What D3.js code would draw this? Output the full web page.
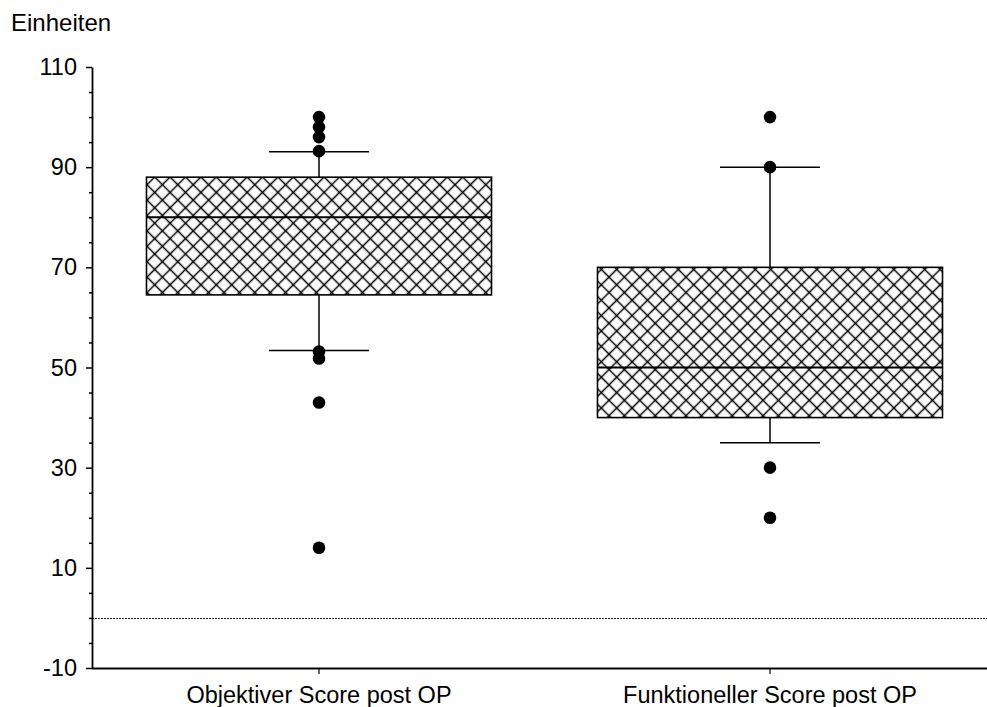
<!DOCTYPE html>
<html>
<head>
<meta charset="utf-8">
<script src="https://cdn.jsdelivr.net/npm/d3@7"></script>
<style>
  html, body { margin: 0; padding: 0; background: #fff; }
  svg { display: block; font-family: "Liberation Sans", Arial, sans-serif; }
</style>
</head>
<body>
<svg id="chart" width="987" height="707"></svg>
<script>
// ---- data ----
const categories = ["Objektiver Score post OP", "Funktioneller Score post OP"];
const whiskerLow = [53.4, 35];
const q1 = [64.5, 40];
const median = [80, 50];
const q3 = [88, 70];
const whiskerHigh = [93.1, 90];
const outliersA = [100, 98, 96, 93.2, 53.2, 51.8, 43, 14];
const outliersB = [100, 90, 30, 20];
const outliers = [outliersA, outliersB];
const yTicks = [-10, 10, 30, 50, 70, 90, 110];
const yLabel = "Einheiten";
const refValue = 0;

// ---- layout ----
const svg = d3.select("#chart");
const plotTop = 67, plotBottom = 668, plotLeft = 92, plotRight = 995.5;

const y = d3.scaleLinear().domain([-10, 110]).range([plotBottom, plotTop]);
const x = d3.scaleBand().domain(categories).range([93.5, plotRight]).padding(0);
const boxW = x.bandwidth() * 0.765;
const capW = 100;

// hatch pattern
const defs = svg.append("defs");
const s = 15.4 / Math.SQRT2;
const pat = defs.append("pattern")
  .attr("id", "hatch")
  .attr("patternUnits", "userSpaceOnUse")
  .attr("width", s).attr("height", s)
  .attr("patternTransform", "translate(147,177) rotate(45)");
pat.append("rect").attr("width", s).attr("height", s).attr("fill", "#fff");
pat.append("path")
  .attr("d", `M0,${s / 2} H${s} M${s / 2},0 V${s}`)
  .attr("stroke", "#000").attr("stroke-width", 1.5).attr("fill", "none");

// reference dotted line at 0
svg.append("line")
  .attr("x1", plotLeft).attr("x2", 987)
  .attr("y1", Math.round(y(refValue)) + 0.5).attr("y2", Math.round(y(refValue)) + 0.5)
  .attr("stroke", "#222").attr("stroke-width", 1)
  .attr("stroke-dasharray", "2,1");

// boxes
const g = svg.append("g");
categories.forEach((c, i) => {
  const cx = x(c) + x.bandwidth() / 2;
  g.append("line").attr("x1", cx).attr("x2", cx)
    .attr("y1", y(q3[i])).attr("y2", y(whiskerHigh[i]))
    .attr("stroke", "#000").attr("stroke-width", 1.5);
  g.append("line").attr("x1", cx).attr("x2", cx)
    .attr("y1", y(q1[i])).attr("y2", y(whiskerLow[i]))
    .attr("stroke", "#000").attr("stroke-width", 1.5);
  g.append("line").attr("x1", cx - capW / 2).attr("x2", cx + capW / 2)
    .attr("y1", y(whiskerHigh[i])).attr("y2", y(whiskerHigh[i]))
    .attr("stroke", "#000").attr("stroke-width", 1.5);
  g.append("line").attr("x1", cx - capW / 2).attr("x2", cx + capW / 2)
    .attr("y1", y(whiskerLow[i])).attr("y2", y(whiskerLow[i]))
    .attr("stroke", "#000").attr("stroke-width", 1.5);
  g.append("rect")
    .attr("x", cx - boxW / 2).attr("width", boxW)
    .attr("y", y(q3[i])).attr("height", y(q1[i]) - y(q3[i]))
    .attr("fill", "url(#hatch)")
    .attr("stroke", "#000").attr("stroke-width", 1.6);
  g.append("line").attr("x1", cx - boxW / 2).attr("x2", cx + boxW / 2)
    .attr("y1", y(median[i])).attr("y2", y(median[i]))
    .attr("stroke", "#000").attr("stroke-width", 2);
  g.selectAll(null).data(outliers[i]).enter().append("circle")
    .attr("cx", cx).attr("cy", d => y(d)).attr("r", 6.3)
    .attr("fill", "#000");
});

// y axis
const yMinor = d3.range(-10, 110.1, 5).filter(v => !yTicks.includes(v));
const yMinorAxis = svg.append("g").attr("transform", `translate(${plotLeft},0)`)
  .call(d3.axisLeft(y).tickValues(yMinor).tickSize(3).tickFormat(""));
yMinorAxis.select(".domain").remove();
yMinorAxis.selectAll("line").attr("stroke-width", 1.5);

const yAxis = svg.append("g").attr("transform", `translate(${plotLeft},0)`)
  .call(d3.axisLeft(y).tickValues(yTicks).tickSize(6).tickPadding(9).tickSizeOuter(0)
    .tickFormat(d => String(d)));
yAxis.select(".domain").attr("stroke-width", 1.8);
yAxis.selectAll("line").attr("stroke-width", 1.5);
yAxis.selectAll("text")
  .attr("font-size", 23.5).attr("fill", "#000")
  .attr("font-family", "Liberation Sans, Arial, sans-serif");

// x axis
const xAxis = svg.append("g").attr("transform", `translate(0,${plotBottom})`)
  .call(d3.axisBottom(x).tickSize(6).tickPadding(12).tickSizeOuter(0));
xAxis.select(".domain").attr("d", `M${plotLeft},0.5H987`).attr("stroke-width", 2.2);
xAxis.selectAll("line").attr("stroke-width", 1.2);
xAxis.selectAll("text")
  .attr("font-size", 23.5).attr("fill", "#000")
  .attr("font-family", "Liberation Sans, Arial, sans-serif");

// y label
svg.append("text")
  .attr("x", 11).attr("y", 31)
  .attr("font-size", 24).attr("fill", "#000")
  .text(yLabel);
</script>
</body>
</html>
